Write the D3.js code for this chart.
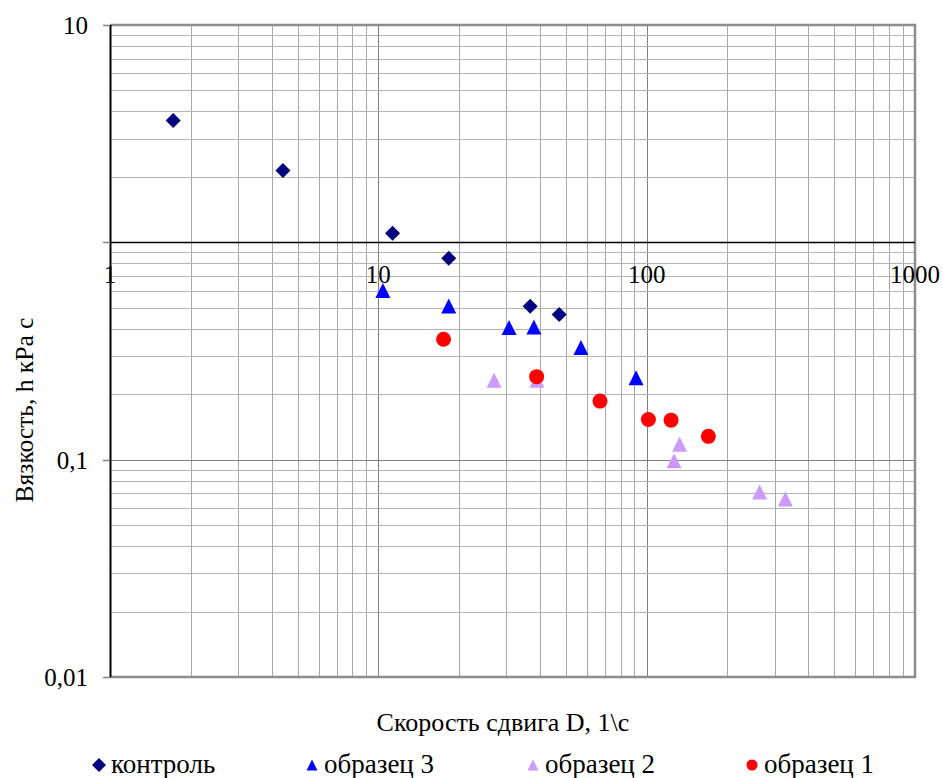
<!DOCTYPE html>
<html>
<head>
<meta charset="utf-8">
<script src="https://cdn.jsdelivr.net/npm/d3@7"></script>
<style>
  body { margin: 0; background: #fff; }
  text { font-family: "Liberation Serif", "Times New Roman", serif; fill: #000; }
</style>
</head>
<body>
<svg class="chart" width="943" height="778"></svg>
<script>
// Data
const seriesNames = ['контроль', 'образец 3', 'образец 2', 'образец 1'];

const controlX = [1.72, 4.41, 11.3, 18.3, 36.8, 47.2];
const controlY = [3.64, 2.14, 1.10, 0.844, 0.508, 0.466];

const sample3X = [10.4, 18.3, 30.7, 38.0, 56.9, 91.3];
const sample3Y = [0.601, 0.510, 0.406, 0.408, 0.328, 0.238];

const sample2X = [27.0, 39.0, 132.6, 126.5, 263.6, 328.8];
const sample2Y = [0.232, 0.232, 0.1176, 0.0988, 0.0710, 0.066];

const sample1X = [17.5, 38.9, 67.0, 101.5, 123.3, 169.8];
const sample1Y = [0.358, 0.241, 0.186, 0.153, 0.152, 0.128];

const xTickValues = [1, 10, 100, 1000];
const yTickValues = [0.01, 0.1, 10];
const yTickLabels = ['0,01', '0,1', '10'];

const xTitle = 'Скорость сдвига D, 1\\с';
const yTitle = 'Вязкость, h кPа с';

// Layout
const margin = { top: 25, right: 28, bottom: 101, left: 110 };
const svg = d3.select('.chart');
const W = +svg.attr('width'), H = +svg.attr('height');
const width = W - margin.left - margin.right;
const height = H - margin.top - margin.bottom;

const x = d3.scaleLog().domain([1, 1000]).range([0, width]);
const y = d3.scaleLog().domain([0.01, 10]).range([height, 0]);

const chart = svg.append('g').attr('transform', `translate(${margin.left},${margin.top})`);

// Gridlines: minor and major
const isMajor = v => Math.abs(Math.log10(v) - Math.round(Math.log10(v))) < 1e-9;

chart.append('g').selectAll('line')
  .data(x.ticks())
  .enter().append('line')
  .attr('x1', d => Math.round(x(d)) + 0.5).attr('x2', d => Math.round(x(d)) + 0.5)
  .attr('y1', 0).attr('y2', height)
  .attr('stroke', d => isMajor(d) ? '#808080' : '#a8a8a8')
  .attr('stroke-width', 1);

chart.append('g').selectAll('line')
  .data(y.ticks())
  .enter().append('line')
  .attr('y1', d => Math.round(y(d)) + 0.5).attr('y2', d => Math.round(y(d)) + 0.5)
  .attr('x1', 0).attr('x2', width)
  .attr('stroke', d => isMajor(d) ? '#808080' : '#b4b4b4')
  .attr('stroke-width', 1);

// Plot frame (top, right, bottom in grey)
chart.append('path')
  .attr('d', `M0,${height}H${width}V0H0`)
  .attr('fill', 'none').attr('stroke', '#8c8c8c').attr('stroke-width', 2.5);

// X axis crossing at y = 1
chart.append('line')
  .attr('x1', 0).attr('x2', width)
  .attr('y1', Math.round(y(1)) + 0.5).attr('y2', Math.round(y(1)) + 0.5)
  .attr('stroke', '#000').attr('stroke-width', 1.3);

// Y axis
chart.append('line')
  .attr('x1', 0.5).attr('x2', 0.5).attr('y1', 0).attr('y2', height)
  .attr('stroke', '#000').attr('stroke-width', 2);

// Y ticks marks
chart.append('g').selectAll('line')
  .data([0.01, 0.1, 1, 10])
  .enter().append('line')
  .attr('x1', -7).attr('x2', 0)
  .attr('y1', d => Math.round(y(d)) + 0.5).attr('y2', d => Math.round(y(d)) + 0.5)
  .attr('stroke', '#808080').attr('stroke-width', 1.5);

// Y tick labels
chart.append('g').selectAll('text')
  .data(yTickValues)
  .enter().append('text')
  .attr('x', -22).attr('y', d => y(d) + 9)
  .attr('text-anchor', 'end')
  .style('font-size', '25px')
  .text((d, i) => yTickLabels[i]);

// X tick labels (under the y = 1 line)
chart.append('g').selectAll('text')
  .data(xTickValues)
  .enter().append('text')
  .attr('x', d => x(d)).attr('y', y(1) + 41)
  .attr('text-anchor', 'middle')
  .style('font-size', '25px')
  .text(d => d);

// Axis titles
svg.append('text')
  .attr('x', 503).attr('y', 731)
  .attr('text-anchor', 'middle')
  .style('font-size', '26px')
  .text(xTitle);

svg.append('text')
  .attr('transform', 'translate(33,410) rotate(-90)')
  .attr('text-anchor', 'middle')
  .style('font-size', '25.5px')
  .text(yTitle);

// Marker shapes
function marker(type, r) {
  if (type === 'diamond') return `M0,${-r}L${r},0L0,${r}L${-r},0Z`;
  if (type === 'triangle') return `M0,${-r}L${r},${r}L${-r},${r}Z`;
  return d3.arc()({ innerRadius: 0, outerRadius: r, startAngle: 0, endAngle: 2 * Math.PI });
}

const series = [
  { name: seriesNames[0], xs: controlX, ys: controlY, type: 'diamond', color: '#000080', r: 7.5 },
  { name: seriesNames[1], xs: sample3X, ys: sample3Y, type: 'triangle', color: '#0000ff', r: 7.5 },
  { name: seriesNames[2], xs: sample2X, ys: sample2Y, type: 'triangle', color: '#cc99ff', r: 7.5 },
  { name: seriesNames[3], xs: sample1X, ys: sample1Y, type: 'circle', color: '#ff0000', r: 7.5 }
];

// draw order: контроль, образец 3, образец 2, образец 1 (red on top)
series.forEach(s => {
  chart.append('g').selectAll('path')
    .data(s.xs.map((v, i) => [v, s.ys[i]]))
    .enter().append('path')
    .attr('transform', d => `translate(${x(d[0])},${y(d[1])})`)
    .attr('d', marker(s.type, s.r))
    .attr('fill', s.color);
});

// Legend
const legendX = [99, 312, 533, 752];
const legend = svg.append('g');
series.forEach((s, i) => {
  legend.append('path')
    .attr('transform', `translate(${legendX[i]},765)`)
    .attr('d', marker(s.type, s.type === 'diamond' ? 7 : 5.5))
    .attr('fill', s.color);
  legend.append('text')
    .attr('x', legendX[i] + 12).attr('y', 773)
    .style('font-size', '27px')
    .text(s.name);
});
</script>
</body>
</html>
